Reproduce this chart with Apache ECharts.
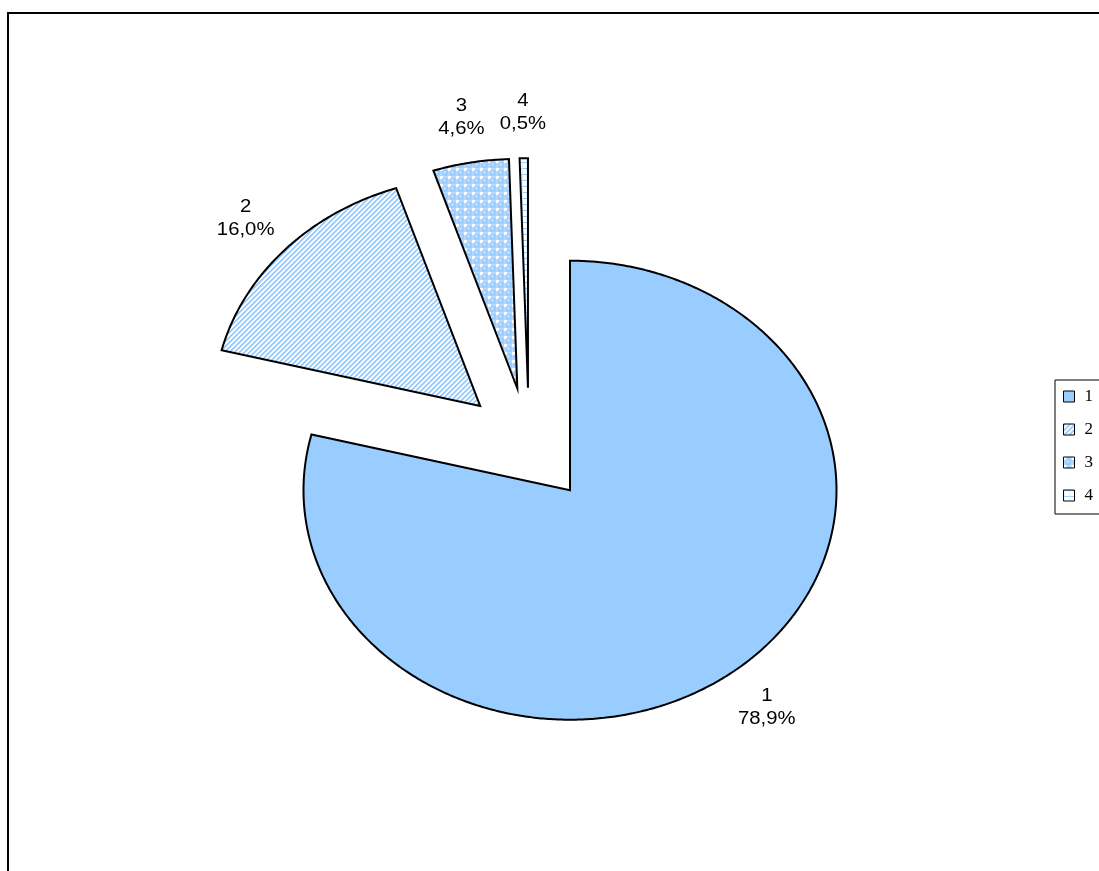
<!DOCTYPE html>
<html>
<head>
<meta charset="utf-8">
<script src="https://cdn.jsdelivr.net/npm/echarts@6/dist/echarts.min.js"></script>
<style>
html,body{margin:0;padding:0;background:#fff;}
#chart{width:1099px;height:871px;}
</style>
</head>
<body>
<div id="chart"></div>
<script>
// ---- data ----
const categories = ['1', '2', '3', '4'];
const values = [78.9, 16.0, 4.6, 0.5];

// ---- fill patterns (Excel-like) ----
function makeTile(w, h, draw) {
  const c = document.createElement('canvas');
  c.width = w; c.height = h;
  const ctx = c.getContext('2d');
  draw(ctx, w, h);
  return { image: c, repeat: 'repeat' };
}
const solidFill = '#99CCFF';
const stripeFill = makeTile(5, 5, function (ctx, w, h) {
  ctx.fillStyle = '#ffffff'; ctx.fillRect(0, 0, w, h);
  for (let y = 0; y < h; y++) for (let x = 0; x < w; x++) {
    const k = (x + y) % 5;
    if (k < 2) { ctx.fillStyle = '#99CCFF'; ctx.fillRect(x, y, 1, 1); }
    else if (k === 2) { ctx.fillStyle = '#C4E0FF'; ctx.fillRect(x, y, 1, 1); }
  }
});
const sphereFill = makeTile(8, 8, function (ctx, w, h) {
  ctx.fillStyle = '#B3D9FF'; ctx.fillRect(0, 0, w, h);
  ctx.fillStyle = '#ffffff'; ctx.fillRect(0, 0, 3, 3);
  ctx.fillStyle = '#99CCFF';
  ctx.beginPath(); ctx.arc(5, 5, 3.3, 0, Math.PI * 2); ctx.fill();
  ctx.fillStyle = '#D8ECFF'; ctx.fillRect(3.5, 3.5, 2, 2);
});
const gridFill = makeTile(6, 6, function (ctx, w, h) {
  ctx.fillStyle = '#ffffff'; ctx.fillRect(0, 0, w, h);
  ctx.fillStyle = '#99CCFF'; ctx.fillRect(0, 0, w, 1);
  ctx.fillStyle = '#D6EBFF'; ctx.fillRect(0, 0, 1, h);
});
const fills = [solidFill, stripeFill, sphereFill, gridFill];

const total = values.reduce((a, b) => a + b, 0);
const explode = 0.25;
const labelR = 1.45;

function fmt(v) { return (v / total * 100).toFixed(1).replace('.', ','); }

function makeRender(i) {
  return function (params, api) {
    let before = 0;
    for (let k = 0; k < i; k++) before += values[k];
    const a0 = before / total * Math.PI * 2;
    const a1 = (before + values[i]) / total * Math.PI * 2;
    const mid = (a0 + a1) / 2;
    const ox = explode * Math.sin(mid), oy = explode * Math.cos(mid);
    const pts = [api.coord([ox, oy])];
    const n = Math.max(2, Math.ceil((a1 - a0) / (Math.PI / 360)));
    for (let j = 0; j <= n; j++) {
      const t = a0 + (a1 - a0) * j / n;
      pts.push(api.coord([ox + Math.sin(t), oy + Math.cos(t)]));
    }
    const lp = api.coord([labelR * Math.sin(mid), labelR * Math.cos(mid)]);
    return {
      type: 'group',
      children: [
        {
          type: 'polygon',
          shape: { points: pts },
          style: { fill: fills[i], stroke: '#000', lineWidth: 2, lineJoin: 'miter' }
        },
        {
          type: 'text',
          x: lp[0], y: lp[1],
          scaleX: 1.16,
          style: {
            text: categories[i] + '\n' + fmt(values[i]) + '%',
            x: 0, y: 0,
            align: 'center', verticalAlign: 'middle',
            fontSize: 17.5, lineHeight: 23,
            fontFamily: '"Liberation Sans", Arial, sans-serif',
            fill: '#000'
          }
        }
      ]
    };
  };
}

const chart = echarts.init(document.getElementById('chart'));
chart.setOption({
  animation: false,
  backgroundColor: '#fff',
  grid: { left: 129.25, top: 100.75, width: 799.5, height: 688.5 },
  xAxis: { type: 'value', min: -1.5, max: 1.5, show: false },
  yAxis: { type: 'value', min: -1.5, max: 1.5, show: false },
  legend: {
    orient: 'vertical',
    left: 1055, top: 380,
    padding: [8, 60, 10, 8],
    itemGap: 16,
    itemWidth: 11, itemHeight: 11,
    borderColor: '#000', borderWidth: 1,
    itemStyle: { borderColor: '#000', borderWidth: 1 },
    textStyle: { fontFamily: '"Liberation Serif", "Times New Roman", serif', fontSize: 17, lineHeight: 17, color: '#000', padding: [0, 0, 0, 5] },
    data: categories.map(c => ({ name: c, icon: 'rect' }))
  },
  graphic: [{
    type: 'rect',
    shape: { x: 8, y: 13, width: 1300, height: 1000 },
    style: { fill: 'none', stroke: '#000', lineWidth: 2 },
    silent: true
  }],
  series: categories.map((c, i) => ({
    type: 'custom',
    name: c,
    coordinateSystem: 'cartesian2d',
    itemStyle: { color: fills[i] },
    data: [[0, 0]],
    renderItem: makeRender(i)
  }))
});
</script>
</body>
</html>
